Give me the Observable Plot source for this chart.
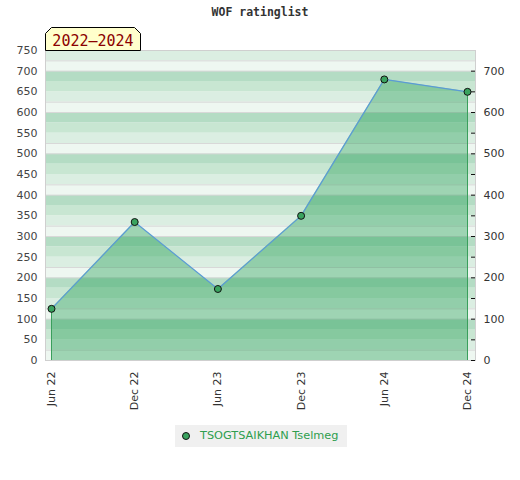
<!DOCTYPE html>
<html><head><meta charset="utf-8">
<script src="https://cdn.jsdelivr.net/npm/d3@7"></script>
<script src="https://cdn.jsdelivr.net/npm/@observablehq/plot@0.6"></script>
<style>
body{margin:0;background:#fff;}
#wrap{position:relative;width:520px;height:480px;overflow:hidden;}
#title{position:absolute;top:5px;left:0;width:520px;text-align:center;font:bold 11.5px "DejaVu Sans Mono",monospace;color:#333;}
#chart{position:absolute;top:22px;left:0;}
#period{position:absolute;left:44px;top:26px;}
#legend{position:absolute;left:175px;top:425px;width:172px;height:22px;background:#f0f0f0;font:11.3px "DejaVu Sans",sans-serif;color:#2e9e4e;}
#legend svg{position:absolute;left:0;top:0;}
#legend span{position:absolute;left:25px;top:4px;white-space:nowrap;}
</style></head>
<body>
<div id="wrap">
  <div id="title"></div>
  <div id="chart"></div>
  <div id="period"></div>
  <div id="legend"></div>
</div>
<script>
const chartTitle = "WOF ratinglist";
const periodLabel = "2022–2024";
const player = "TSOGTSAIKHAN Tselmeg";
const periods = ["Jun 22", "Dec 22", "Jun 23", "Dec 23", "Jun 24", "Dec 24"];
const ratings = [125, 335, 173, 350, 680, 650];
const leftTicks = d3.range(0, 751, 50);
const rightTicks = d3.range(0, 701, 100);
const rightMinor = d3.range(50, 701, 100);
const bandStarts = d3.range(0, 750, 25);
const bandColors = ["#eef7f1", "#dbeee2", "#c8e6d2", "#b4dcc4"];

const data = periods.map((p, i) => ({period: p, rating: ratings[i]}));
const bands = bandStarts.map((v, i) => ({y1: v, y2: v + 25, fill: bandColors[i % 4]}));
const greyLines = bandStarts.filter((v, i) => i % 4 === 0 || i % 4 === 1).filter(v => v > 0);

document.getElementById("title").textContent = chartTitle;

const chart = Plot.plot({
  width: 520,
  height: 400,
  marginLeft: 45,
  marginRight: 45,
  marginTop: 28,
  marginBottom: 62,
  style: {fontFamily: "DejaVu Sans, sans-serif", fontSize: "11px", background: "transparent"},
  x: {type: "point", domain: periods, range: [51, 467], padding: 0, round: false},
  y: {domain: [0, 750]},
  color: {type: "identity"},
  marks: [
    Plot.rect(bands, {y1: "y1", y2: "y2", fill: "fill"}),
    Plot.ruleY(greyLines, {stroke: "#d8d8d8", strokeWidth: 1}),
    Plot.areaY(data, {x: "period", y: "rating", fill: "#16984a", fillOpacity: 0.37}),
    Plot.ruleX([data[0], data[data.length - 1]], {x: "period", y1: 0, y2: "rating", stroke: "#3a9f5c", strokeWidth: 1}),
    Plot.line(data, {x: "period", y: "rating", stroke: "#5b9bd5", strokeWidth: 1.2}),
    Plot.dot(data, {x: "period", y: "rating", r: 3.5, fill: "#3aa35f", stroke: "#111", strokeWidth: 1}),
    Plot.frame({stroke: "#cfcfcf"}),
    Plot.axisY({anchor: "left", ticks: leftTicks, tickSize: 0, tickPadding: 8, fill: "#444", label: null}),
    Plot.axisY({anchor: "right", ticks: rightTicks, tickSize: 4, tickPadding: 9, dx: -5, fill: "#333", stroke: "#111", label: null}),
    Plot.axisY({anchor: "right", ticks: rightMinor, tickSize: 4, dx: -5, stroke: "#111", tickFormat: () => "", label: null}),
    Plot.axisX({ticks: periods, tickRotate: -90, tickSize: 0, tickPadding: 11, fill: "#333", label: null})
  ]
});
document.getElementById("chart").appendChild(chart);

// period badge
const badge = d3.select("#period").append("svg").attr("width", 98).attr("height", 26);
badge.append("path")
  .attr("d", "M1.5,7.5 L7.5,1.5 L90.5,1.5 L96.5,7.5 L96.5,24.5 L1.5,24.5 Z")
  .attr("fill", "#ffffcc").attr("stroke", "#000").attr("stroke-width", 1);
badge.append("text").attr("x", 49).attr("y", 19.5).attr("text-anchor", "middle")
  .attr("font-family", "DejaVu Sans Mono, monospace").attr("font-size", 15)
  .attr("fill", "#8b0000").text(periodLabel);

// legend
const leg = d3.select("#legend");
const ls = leg.append("svg").attr("width", 20).attr("height", 22);
ls.append("circle").attr("cx", 11).attr("cy", 11).attr("r", 3.5)
  .attr("fill", "#3aa35f").attr("stroke", "#111").attr("stroke-width", 1);
leg.append("span").text(player);
</script>
</body></html>
